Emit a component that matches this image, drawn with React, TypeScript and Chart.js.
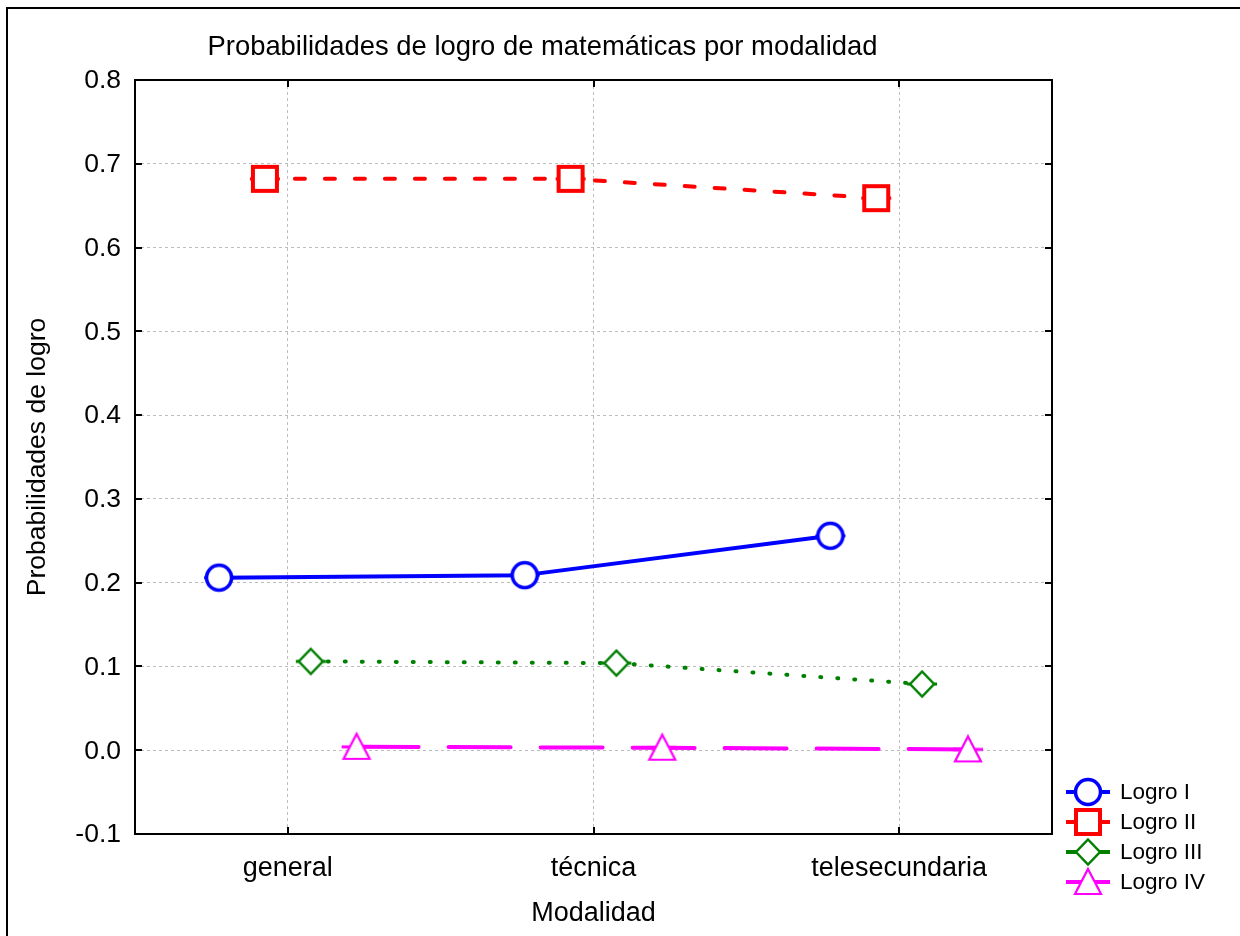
import React, { useEffect, useRef } from "react";
import { Chart, registerables } from "chart.js";

Chart.register(...registerables);

// ---------- data ----------
const chartTitle = "Probabilidades de logro de matemáticas por modalidad";
const xAxisTitle = "Modalidad";
const yAxisTitle = "Probabilidades de logro";
const categories = ["general", "técnica", "telesecundaria"];
const seriesLabels = ["Logro I", "Logro II", "Logro III", "Logro IV"];
const logroI = [0.206, 0.209, 0.256];
const logroII = [0.682, 0.682, 0.659];
const logroIII = [0.106, 0.104, 0.079];
const logroIV = [0.004, 0.003, 0.001];
const yTicks = [-0.1, 0.0, 0.1, 0.2, 0.3, 0.4, 0.5, 0.6, 0.7, 0.8];

// ---------- styling ----------
const FONT = '"Liberation Sans", Arial, Helvetica, sans-serif';
const seriesValues = [logroI, logroII, logroIII, logroIV];
const seriesOffsets = [-0.225, -0.075, 0.075, 0.225];

type Shape = "circle" | "square" | "diamond" | "triangle";
interface SeriesStyle {
  color: string;
  shape: Shape;
  dash: number[];
  cap: CanvasLineCap;
  lineWidth: number;
  markerLW: number;
}
const seriesStyles: SeriesStyle[] = [
  { color: "#0000ff", shape: "circle", dash: [], cap: "butt", lineWidth: 4, markerLW: 3.5 },
  { color: "#ff0000", shape: "square", dash: [10, 20], cap: "round", lineWidth: 4, markerLW: 4 },
  { color: "#008000", shape: "diamond", dash: [1, 16], cap: "round", lineWidth: 4, markerLW: 2.5 },
  { color: "#ff00ff", shape: "triangle", dash: [62, 30], cap: "round", lineWidth: 4, markerLW: 2.2 },
];

function makeMarker(s: SeriesStyle, stubHalf: number, stubWidth: number): HTMLCanvasElement {
  const w = stubHalf * 2 + 4;
  const h = 34;
  const c = document.createElement("canvas");
  c.width = w;
  c.height = h;
  const ctx = c.getContext("2d")!;
  const cx = w / 2;
  const cy = h / 2;
  ctx.strokeStyle = s.color;
  ctx.lineWidth = stubWidth;
  ctx.lineCap = "butt";
  ctx.beginPath();
  ctx.moveTo(cx - stubHalf, cy);
  ctx.lineTo(cx + stubHalf, cy);
  ctx.stroke();
  ctx.beginPath();
  switch (s.shape) {
    case "circle":
      ctx.arc(cx, cy, 12.5, 0, Math.PI * 2);
      break;
    case "square":
      ctx.rect(cx - 12, cy - 12, 24, 24);
      break;
    case "diamond":
      ctx.moveTo(cx, cy - 12.5);
      ctx.lineTo(cx + 12, cy);
      ctx.lineTo(cx, cy + 12.5);
      ctx.lineTo(cx - 12, cy);
      ctx.closePath();
      break;
    case "triangle":
      ctx.moveTo(cx, cy - 13);
      ctx.lineTo(cx + 13, cy + 12);
      ctx.lineTo(cx - 13, cy + 12);
      ctx.closePath();
      break;
  }
  ctx.fillStyle = "#ffffff";
  ctx.fill();
  ctx.lineWidth = s.markerLW;
  ctx.lineJoin = "miter";
  ctx.stroke();
  return c;
}

export default function App() {
  const canvasRef = useRef<HTMLCanvasElement | null>(null);

  useEffect(() => {
    const canvas = canvasRef.current;
    if (!canvas) return;

    const plotMarkers = seriesStyles.map((s) => makeMarker(s, 15, 3));
    const legendMarkers = seriesStyles.map((s) => makeMarker(s, 22, 4));

    const decor = {
      id: "decor",
      afterDraw(chart: any) {
        const ctx: CanvasRenderingContext2D = chart.ctx;
        const { left, top, right, bottom } = chart.chartArea;
        ctx.save();
        // outer border
        ctx.strokeStyle = "#000";
        ctx.lineWidth = 2;
        ctx.setLineDash([]);
        ctx.beginPath();
        ctx.moveTo(7, 936);
        ctx.lineTo(7, 8);
        ctx.lineTo(1240, 8);
        ctx.stroke();
        // plot frame
        ctx.beginPath();
        ctx.rect(left, top, right - left, bottom - top);
        ctx.stroke();
        // inward ticks
        const ys = chart.scales.y;
        const xs = chart.scales.x;
        ctx.beginPath();
        yTicks.forEach((v) => {
          const p = Math.round(ys.getPixelForValue(v));
          ctx.moveTo(left, p);
          ctx.lineTo(left + 7, p);
          ctx.moveTo(right, p);
          ctx.lineTo(right - 7, p);
        });
        categories.forEach((_, i) => {
          const p = Math.round(xs.getPixelForValue(i));
          ctx.moveTo(p, top);
          ctx.lineTo(p, top + 7);
          ctx.moveTo(p, bottom);
          ctx.lineTo(p, bottom - 7);
        });
        ctx.stroke();
        // title
        ctx.fillStyle = "#000";
        ctx.font = `27.4px ${FONT}`;
        ctx.textAlign = "center";
        ctx.textBaseline = "alphabetic";
        ctx.fillText(chartTitle, 542.5, 55);
        // legend
        ctx.font = `22.5px ${FONT}`;
        ctx.textAlign = "left";
        ctx.textBaseline = "middle";
        seriesLabels.forEach((lab, i) => {
          const cy = 792 + i * 30;
          const img = legendMarkers[i];
          ctx.drawImage(img, 1088 - img.width / 2, cy - img.height / 2);
          ctx.fillText(lab, 1120, cy + 1);
        });
        ctx.restore();
      },
    };

    const datasets = seriesLabels.map((label, si) => {
      const s = seriesStyles[si];
      return {
        label,
        data: seriesValues[si].map((v, ci) => ({ x: ci + seriesOffsets[si], y: v })),
        borderColor: s.color,
        backgroundColor: s.color,
        borderWidth: s.lineWidth,
        borderDash: s.dash,
        borderCapStyle: s.cap,
        borderJoinStyle: "round" as CanvasLineJoin,
        pointStyle: plotMarkers[si],
        pointRadius: 12,
        pointHoverRadius: 12,
        tension: 0,
        fill: false,
      };
    });

    const chart = new Chart(canvas, {
      type: "line",
      data: { datasets },
      plugins: [decor],
      options: {
        animation: false,
        responsive: false,
        maintainAspectRatio: false,
        devicePixelRatio: 1,
        events: [],
        layout: { padding: { left: 8, top: 80, right: 188, bottom: 6 } },
        plugins: {
          legend: { display: false },
          title: { display: false },
          tooltip: { enabled: false },
        },
        scales: {
          x: {
            type: "linear",
            min: -0.5,
            max: 2.5,
            afterFit: (scale: any) => {
              scale.height = 96;
            },
            afterBuildTicks: (scale: any) => {
              scale.ticks = categories.map((_, i) => ({ value: i }));
            },
            ticks: {
              autoSkip: false,
              maxRotation: 0,
              padding: 18,
              color: "#000",
              font: { family: FONT, size: 27 },
              callback: (v: any) => categories[Math.round(Number(v))] ?? "",
            },
            grid: { color: "#bdbdbd", lineWidth: 1, drawTicks: false },
            border: { display: false, dash: [3, 3] },
            title: {
              display: true,
              text: xAxisTitle,
              color: "#000",
              font: { family: FONT, size: 27 },
              padding: { top: 0, bottom: 0 },
            },
          },
          y: {
            type: "linear",
            min: -0.1,
            max: 0.8,
            afterFit: (scale: any) => {
              scale.width = 127;
            },
            afterBuildTicks: (scale: any) => {
              scale.ticks = yTicks.map((v) => ({ value: v }));
            },
            ticks: {
              padding: 14,
              labelOffset: 1,
              color: "#000",
              font: { family: FONT, size: 26.5 },
              callback: (v: any) => Number(v).toFixed(1),
            },
            grid: { color: "#bdbdbd", lineWidth: 1, drawTicks: false },
            border: { display: false, dash: [3, 3] },
            title: {
              display: true,
              text: yAxisTitle,
              color: "#000",
              font: { family: FONT, size: 26.5 },
              padding: { top: 14, bottom: 0 },
            },
          },
        },
      } as any,
    });

    return () => chart.destroy();
  }, []);

  return (
    <div style={{ position: "fixed", left: 0, top: 0, width: 1240, height: 936, background: "#fff" }}>
      <canvas ref={canvasRef} width={1240} height={936} style={{ display: "block" }} />
    </div>
  );
}
